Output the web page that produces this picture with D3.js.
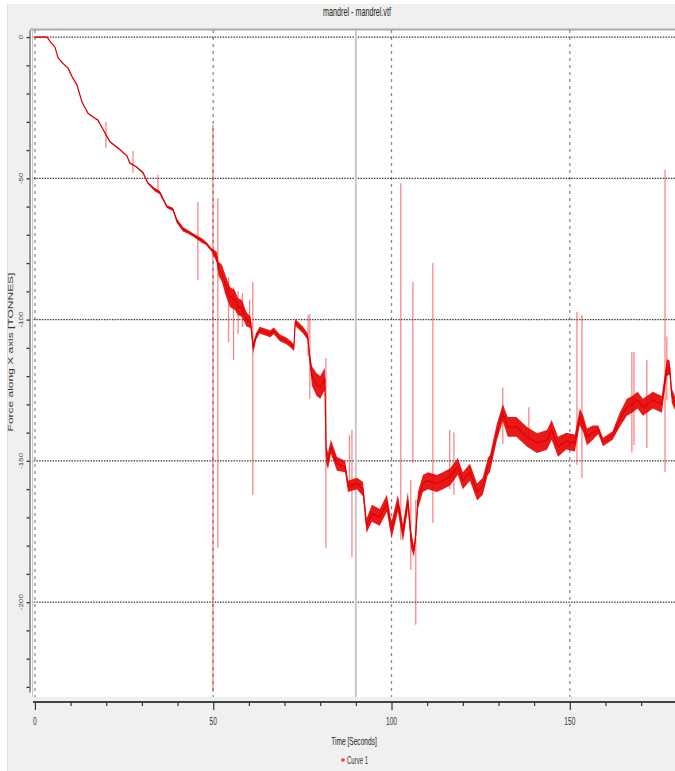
<!DOCTYPE html>
<html>
<head>
<meta charset="utf-8">
<script src="https://cdn.jsdelivr.net/npm/d3@7"></script>
<style>
  html, body { margin: 0; padding: 0; background: #fff; }
  svg { display: block; font-family: "Liberation Sans", Arial, sans-serif; }
</style>
</head>
<body>
<svg id="chart" width="675" height="771"></svg>
<script>
// time [s], force [tonnes], spread = half width of the noisy band [tonnes]
const times = [0, 3.4, 4.5, 5.6, 6.5, 8, 9.3, 10.4, 11.8, 13.2, 14.9, 16.5, 17.7, 18.8, 21, 23.5, 25.8, 26.6, 28.5, 30.3,
  31.7, 33.6, 35, 37, 38.7, 39.8, 41.5, 43, 44.3, 46.8, 48, 49.6, 50.5, 51, 51.5, 52.4, 53.5, 54.7, 56, 57,
  58, 59.4, 60.5, 61.2, 62, 63, 66, 67, 68.7, 70.5, 72, 72.6, 73, 75.2, 76.5, 77, 77.7, 79, 80, 81.3,
  81.7, 82.2, 83, 84.7, 87, 87.8, 90.3, 92, 93, 94.5, 96.7, 98.7, 100, 101.8, 103.2, 104.6, 105.5, 106.3, 106.8, 107.4,
  108.8, 110.2, 112.7, 114.4, 116.4, 118.6, 120, 122, 124, 125.6, 127, 127.6, 129.5, 131.2, 132.6, 135, 138, 140.8, 143.6, 144.9,
  146.7, 149, 151.4, 152.8, 153.8, 154.8, 156.5, 158, 159.3, 162, 164, 166, 167.5, 169, 170.5, 173.3, 175.8, 177.2, 178, 178.6, 180];
const force = [0, 0, -2, -3.5, -7.4, -9.5, -11, -14, -17, -23, -27, -28.5, -29.4, -32, -37, -39.5, -42, -44.6, -46, -48,
  -51.7, -54, -55, -60, -61, -65, -68, -69, -70, -72, -73, -75.4, -77, -78, -82, -83.5, -88, -92, -93, -95.5,
  -96, -100, -101, -110, -106, -103.7, -105, -104, -106.5, -107.5, -109, -110, -101, -103.7, -106, -113, -120, -123, -124, -121,
  -148, -150, -145, -151, -152, -159, -158, -160, -173, -168.5, -170, -165, -174.5, -165, -175.5, -164, -178, -182, -176, -164,
  -158, -157, -158, -157, -155.7, -152, -157, -154, -161, -159, -152, -151, -140, -133, -138, -138, -141.5, -143.7, -142.6, -139,
  -145, -143, -143.7, -134.5, -137, -141.5, -140, -139, -143.3, -141, -135.5, -131, -130, -128.5, -131, -128.5, -130, -117, -117, -127, -131];
const spread = [0.1, 0.1, 0.1, 0.1, 0.1, 0.1, 0.1, 0.1, 0.1, 0.1, 0.1, 0.1, 0.2, 0.2, 0.2, 0.2, 0.2, 0.2, 0.2, 0.3,
  0.3, 0.6, 0.6, 0.5, 0.6, 0.8, 0.8, 0.6, 0.6, 0.8, 0.6, 0.6, 1.5, 2, 2.5, 3, 3.5, 3.5, 3.5, 3,
  3, 2.5, 2, 2, 1.2, 1.2, 1.2, 1.2, 1.2, 1.2, 1.2, 1.2, 1.2, 1.2, 1.2, 2, 3.5, 4, 4, 4,
  3, 3, 2.5, 2.5, 2, 2, 2, 2.5, 2.5, 3, 3, 3, 3, 3, 3, 3, 3, 2, 2, 3,
  3, 3, 3, 3, 3, 3, 3, 3, 3, 3, 3, 3, 3, 3, 3.5, 3.5, 3.5, 3.5, 3.5, 3.5,
  3.5, 3, 3, 3, 3, 3, 2.5, 1.5, 1.5, 1.5, 2.5, 3, 3, 3, 3, 3, 3, 3, 2.5, 2.5, 2.5];

// single-sample spikes: time, top, bottom
const spikeTimes = [19.9, 27.5, 34.5, 45.7, 49.9, 51.3, 54.3, 55.7, 57.0, 58.2, 60.2, 61.1, 76.6, 77.1, 81.6, 88.2, 88.9,
  102.6, 105.4, 106.0, 106.8, 111.6, 116.3, 117.5, 131.2, 138.5, 152.0, 153.4, 167.4, 168.0, 171.6, 176.7, 177.2];
const spikeTop = [-30.1, -40.3, -48.8, -58.4, -31.1, -57, -85, -88.5, -90, -90.6, -93, -86.7, -98.4, -98, -113.6, -141, -139,
  -51.7, -156.8, -86.7, -163.8, -80, -139, -140, -124, -131, -97.3, -98.4, -111.5, -111.5, -114.3, -47, -106];
const spikeBottom = [-39.3, -48.1, -54.1, -86, -231.8, -180.8, -108, -114.3, -105, -102.6, -101, -162, -113, -128, -180.8, -160, -184,
  -178, -188.6, -150.7, -208, -172, -160, -162, -144, -142.6, -151.4, -156, -147, -144.4, -145.4, -154, -128.5];

const xMajor = [0, 50, 100, 150];
const yMajor = [0, -50, -100, -150, -200];
const cursorTime = 90;

const title = "mandrel - mandrel.vtf";
const xTitle = "Time [Seconds]";
const yTitle = "Force along X axis [TONNES]";
const seriesName = "Curve 1";

const W = 675, H = 771;
const plot = { left: 31, top: 30, right: 680, bottom: 697 };
const squash = 0.6; // the original screenshot is squeezed horizontally

const svg = d3.select("#chart");

const x = d3.scaleLinear().domain([-1.1, 180.9]).range([31, 680]);
const y = d3.scaleLinear().domain([2.5, -231.8]).range([30, 692]);

// panel background
svg.append("rect").attr("x", 7).attr("y", 4).attr("width", W - 7).attr("height", H - 4).attr("fill", "#f0f0f0");
svg.append("line").attr("x1", 7.5).attr("x2", 7.5).attr("y1", 4).attr("y2", H).attr("stroke", "#d6dde6");

// plot area
svg.append("rect").attr("x", plot.left).attr("y", plot.top)
  .attr("width", plot.right - plot.left).attr("height", plot.bottom - plot.top).attr("fill", "#fff");
svg.append("line").attr("x1", plot.left - 1).attr("x2", W).attr("y1", plot.top - 0.5).attr("y2", plot.top - 0.5)
  .attr("stroke", "#a9a9a9").attr("stroke-width", 2);
svg.append("line").attr("x1", 32.5).attr("x2", 32.5).attr("y1", plot.top).attr("y2", plot.bottom)
  .attr("stroke", "#c4c4c4");

svg.append("clipPath").attr("id", "clip").append("rect")
  .attr("x", plot.left + 2).attr("y", plot.top).attr("width", plot.right - plot.left).attr("height", plot.bottom - plot.top);

const g = svg.append("g").attr("clip-path", "url(#clip)");

// grid
g.selectAll(".vgrid").data(xMajor).join("line").attr("class", "vgrid")
  .attr("x1", d => x(d)).attr("x2", d => x(d)).attr("y1", plot.top).attr("y2", plot.bottom)
  .attr("stroke", "#8a8a8a").attr("stroke-width", 1.3).attr("stroke-dasharray", "3,4");
g.selectAll(".hgrid").data(yMajor).join("line").attr("class", "hgrid")
  .attr("x1", plot.left).attr("x2", plot.right).attr("y1", d => y(d)).attr("y2", d => y(d))
  .attr("stroke", "#3a3a3a").attr("stroke-width", 1.2).attr("stroke-dasharray", "1.5,1.2");

// cursor line
g.append("line").attr("x1", x(cursorTime)).attr("x2", x(cursorTime)).attr("y1", plot.top).attr("y2", plot.bottom)
  .attr("stroke", "#c9c9c9").attr("stroke-width", 2);

// spikes
g.selectAll(".spike").data(spikeTimes).join("line").attr("class", "spike")
  .attr("x1", d => x(d)).attr("x2", d => x(d))
  .attr("y1", (d, i) => y(spikeTop[i])).attr("y2", (d, i) => y(spikeBottom[i]))
  .attr("stroke", "#ee3b3b").attr("stroke-opacity", 0.6).attr("stroke-width", 1.3);

// noisy band + trace
const pts = times.map((t, i) => ({ t, v: force[i], s: spread[i] }));
g.append("path").datum(pts)
  .attr("fill", "#e60000").attr("fill-opacity", 0.9)
  .attr("d", d3.area().x(d => x(d.t)).y0(d => y(d.v - d.s)).y1(d => y(d.v + d.s)));
g.append("path").datum(pts)
  .attr("fill", "none").attr("stroke", "#e00000").attr("stroke-width", 1.2)
  .attr("d", d3.line().x(d => x(d.t)).y(d => y(d.v)));

// y axis
const yAxis = svg.append("g").attr("transform", "translate(29.5,0)")
  .call(d3.axisLeft(y).tickValues(d3.range(0, -231, -10)).tickSize(3).tickSizeOuter(0).tickFormat(""));
yAxis.select(".domain").attr("stroke", "#777").attr("stroke-width", 1.5);
yAxis.selectAll(".tick line").attr("stroke", "#333").attr("stroke-width", 1.3);
svg.selectAll(".ylab").data(yMajor).join("text").attr("class", "ylab")
  .attr("transform", d => `translate(23,${y(d)}) rotate(-90) scale(1,${squash})`)
  .attr("text-anchor", "middle").attr("font-size", 8).attr("fill", "#333").text(d => d);

// x axis
const xAxis = svg.append("g").attr("transform", "translate(0,702)")
  .call(d3.axisBottom(x).tickValues(d3.range(0, 181, 10)).tickSize(4).tickSizeOuter(0).tickFormat(""));
xAxis.select(".domain").attr("stroke", "#444").attr("stroke-width", 1.8)
  .attr("d", `M33,0H${W}`);
xAxis.selectAll(".tick line").attr("stroke", "#333").attr("stroke-width", 1.2)
  .attr("y2", d => d % 50 === 0 ? 8 : 4);
svg.selectAll(".xlab").data(xMajor).join("text").attr("class", "xlab")
  .attr("transform", d => `translate(${x(d)},725) scale(${squash},1)`)
  .attr("text-anchor", "middle").attr("font-size", 11).attr("fill", "#333").text(d => d);

// titles
svg.append("text").attr("transform", `translate(357,16) scale(${squash},1)`)
  .attr("text-anchor", "middle").attr("font-size", 12).attr("fill", "#222").text(title);
svg.append("text").attr("transform", `translate(354,745) scale(${squash},1)`)
  .attr("text-anchor", "middle").attr("font-size", 11).attr("fill", "#222").text(xTitle);
svg.append("text").attr("transform", `translate(13,352) rotate(-90) scale(1,${squash})`)
  .attr("text-anchor", "middle").attr("font-size", 12).attr("fill", "#333").text(yTitle);

// legend
svg.append("rect").attr("x", 341.5).attr("y", 758.5).attr("width", 3).attr("height", 3).attr("fill", "#e33");
svg.append("text").attr("transform", `translate(347,764) scale(${squash},1)`)
  .attr("font-size", 10).attr("fill", "#333").text(seriesName);
</script>
</body>
</html>
